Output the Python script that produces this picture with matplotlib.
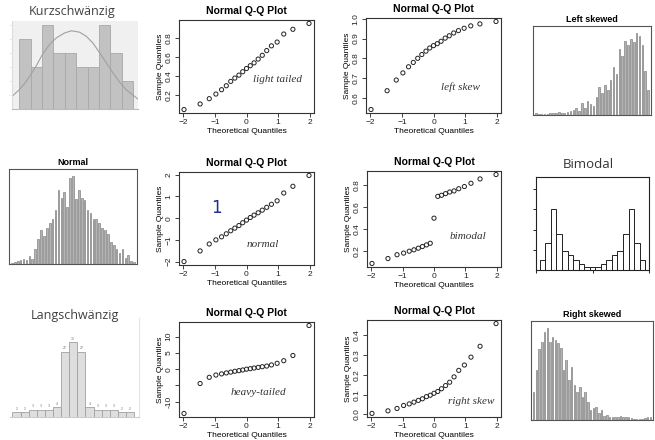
import matplotlib
matplotlib.use("Agg")
import matplotlib.pyplot as plt

W, H = 655, 440

# theoretical quantiles (n = 21)
QQ_X = [-1.98, -1.47, -1.18, -0.97, -0.79, -0.64, -0.50, -0.37, -0.24, -0.12, 0.0,
        0.12, 0.24, 0.37, 0.50, 0.64, 0.79, 0.97, 1.18, 1.47, 1.98]

LIGHT_Y = [0.046, 0.105, 0.161, 0.21, 0.256, 0.298, 0.344, 0.379, 0.41, 0.446, 0.48,
           0.51, 0.54, 0.58, 0.62, 0.67, 0.72, 0.76, 0.845, 0.895, 0.957]
LEFT_Y = [0.541, 0.636, 0.69, 0.726, 0.757, 0.779, 0.80, 0.819, 0.836, 0.852, 0.864,
          0.874, 0.886, 0.902, 0.914, 0.928, 0.94, 0.952, 0.964, 0.974, 0.986]
NORMAL_Y = [-2.0, -1.51, -1.19, -1.0, -0.86, -0.72, -0.58, -0.46, -0.34, -0.21, -0.09,
            0.03, 0.14, 0.25, 0.37, 0.5, 0.64, 0.8, 1.16, 1.47, 1.97]
BIMODAL_Y = [0.085, 0.13, 0.165, 0.18, 0.197, 0.21, 0.225, 0.24, 0.255, 0.27, 0.5,
             0.70, 0.71, 0.725, 0.74, 0.75, 0.77, 0.79, 0.82, 0.86, 0.90]
HEAVY_Y = [-13.6, -4.4, -2.5, -1.8, -1.45, -1.15, -0.9, -0.65, -0.45, -0.25, 0.0,
           0.15, 0.35, 0.55, 0.75, 0.95, 1.3, 1.8, 2.6, 4.2, 13.4]
RIGHT_Y = [0.005, 0.018, 0.03, 0.045, 0.053, 0.062, 0.071, 0.079, 0.09, 0.097, 0.107,
           0.116, 0.13, 0.146, 0.163, 0.19, 0.223, 0.25, 0.29, 0.345, 0.46]

# histogram counts
KURZ_COUNTS = [5, 3, 6, 4, 4, 3, 3, 6, 4, 2]
KURZ_CURVE_X = [-0.64, 0.0, 0.5, 1.0, 1.5, 2.1, 2.7, 3.27, 4.0, 4.6, 5.3, 5.9, 6.5,
                7.08, 7.7, 8.25, 8.8, 9.4, 10.44]
KURZ_CURVE_Y = [0.9, 1.38, 1.85, 2.45, 3.1, 4.0, 4.65, 5.1, 5.45, 5.6, 5.5, 5.2, 4.7,
                4.0, 3.25, 2.57, 1.95, 1.38, 0.71]
LANG_COUNTS = [2, 2, 3, 3, 3, 4, 27, 31, 27, 4, 3, 3, 3, 2, 2]
NORMAL_HIST = [1, 2, 3, 4, 5, 4, 9, 6, 16, 28, 37, 31, 40, 45, 50, 60, 82, 73, 79, 63,
               95, 97, 72, 82, 73, 71, 60, 56, 50, 50, 45, 40, 38, 33, 24, 21, 17, 12,
               17, 7, 10, 3, 2]
LEFT_HIST = [3, 1, 1, 1, 1, 2, 3, 2, 4, 3, 3, 4, 5, 6, 9, 5, 14, 9, 17, 13, 11, 22, 34,
             27, 37, 30, 42, 58, 50, 80, 72, 90, 85, 92, 88, 100, 96, 85, 53, 30]
RIGHT_HIST = [85, 150, 212, 235, 265, 275, 235, 250, 240, 230, 215, 150, 180, 120, 160,
              105, 85, 100, 70, 85, 55, 30, 35, 40, 20, 30, 13, 15, 10, 8, 10, 8, 12, 8,
              10, 8, 5, 3, 3, 3, 3, 5, 8, 10]
BIMODAL_HIST = [30, 80, 178, 105, 55, 43, 30, 18, 8, 8, 8, 18, 30, 43, 55, 105, 178, 80, 30]

plt.rcParams["font.family"] = ["Liberation Sans", "DejaVu Sans"]
fig = plt.figure(figsize=(W / 100, H / 100), dpi=100)


def box(l, t, r, b):
    return fig.add_axes([l / W, 1 - b / H, (r - l) / W, (b - t) / H])


def qq(rect, ys, note, note_xy, yticks, yticklabels=None):
    ax = box(*rect)
    ax.scatter(QQ_X, ys, s=9, facecolors="none", edgecolors="#222222", linewidths=0.7)
    ax.margins(x=0.04, y=0.04)
    ax.set_xticks([-2, -1, 0, 1, 2])
    ax.set_yticks(yticks)
    if yticklabels is not None:
        ax.set_yticklabels(yticklabels)
    ax.tick_params(labelsize=6, length=3, width=0.6, pad=1.5, colors="#222222")
    for lab in ax.get_yticklabels():
        lab.set_rotation(90)
        lab.set_va("center")
    for s in ax.spines.values():
        s.set_linewidth(0.8)
        s.set_color("#333333")
    ax.set_title("Normal Q-Q Plot", fontsize=7.5, fontweight="bold", pad=4)
    ax.set_xlabel("Theoretical Quantiles", fontsize=6, labelpad=1)
    ax.set_ylabel("Sample Quantiles", fontsize=6, labelpad=1)
    ax.text(note_xy[0], note_xy[1], note, transform=ax.transAxes, fontsize=8,
            family="Liberation Serif", style="italic", color="#333333",
            ha="center", va="center")
    return ax


def thin_hist(rect, counts, title):
    ax = box(*rect)
    ax.bar(range(len(counts)), counts, width=0.55, color="#b4b4b4",
           edgecolor="#6e6e6e", linewidth=0.4)
    ax.set_xlim(-1, len(counts))
    ax.set_ylim(0, max(counts) * 1.08)
    ax.set_xticks([])
    ax.set_yticks([])
    for s in ax.spines.values():
        s.set_linewidth(0.8)
        s.set_color("#555555")
    ax.set_title(title, fontsize=6.5, fontweight="bold", pad=3)
    return ax


# row 1
ax = box(12, 21, 138, 109)
ax.set_facecolor("#f0f0f0")
ax.bar([i + 0.5 for i in range(len(KURZ_COUNTS))], KURZ_COUNTS, width=1.0,
       color="#c2c2c2", edgecolor="#a8a8a8", linewidth=0.6)
ax.plot(KURZ_CURVE_X, KURZ_CURVE_Y, color="#a0a0a0", lw=0.8)
ax.set_xlim(-0.64, 10.44)
ax.set_ylim(0, 6.3)
ax.set_xticks([])
ax.set_yticks([1, 2, 3, 4, 5, 6])
ax.tick_params(labelleft=False, length=2, width=0.4, color="#dddddd")
for k in ("top", "right"):
    ax.spines[k].set_visible(False)
ax.spines["left"].set_color("#dddddd")
ax.spines["bottom"].set_color("#bbbbbb")
fig.text(72 / W, 1 - 12 / H, "Kurzschwänzig", fontsize=9, family="Open Sans",
         ha="center", va="center", color="#404040")

qq((179, 20, 314, 113), LIGHT_Y, "light tailed", (0.73, 0.36), [0.2, 0.4, 0.6, 0.8])
qq((366, 18, 501, 113), LEFT_Y, "left skew", (0.70, 0.27), [0.6, 0.7, 0.8, 0.9, 1.0])
thin_hist((533, 26, 651, 115), LEFT_HIST, "Left skewed")

# row 2
thin_hist((9, 169, 137, 264), NORMAL_HIST, "Normal")
ax = qq((179, 172, 314, 265), NORMAL_Y, "normal", (0.62, 0.22), [-2, -1, 0, 1, 2])
ax.text(0.28, 0.61, "1", transform=ax.transAxes, fontsize=12, color="#1f2f8f",
        family="DejaVu Sans", ha="center", va="center")
qq((367, 171, 501, 267), BIMODAL_Y, "bimodal", (0.75, 0.32), [0.2, 0.4, 0.6, 0.8])

ax = box(536, 177, 649, 270)
ax.bar(range(len(BIMODAL_HIST)), BIMODAL_HIST, width=1.0, color="white",
       edgecolor="#222222", linewidth=0.7)
ax.set_xlim(-1.2, len(BIMODAL_HIST) + 0.2)
ax.set_ylim(0, 273)
ax.set_xticks([-1.2, len(BIMODAL_HIST) / 2 - 0.5, len(BIMODAL_HIST) + 0.2])
ax.set_yticks([58, 118, 178, 238])
ax.tick_params(labelbottom=False, labelleft=False, length=2, width=0.6)
for s in ax.spines.values():
    s.set_linewidth(0.8)
    s.set_color("#222222")
fig.text(588 / W, 1 - 165 / H, "Bimodal", fontsize=9.5, family="Open Sans",
         ha="center", va="center", color="#333333")

# row 3
ax = box(10, 318, 139, 417)
ax.bar(range(len(LANG_COUNTS)), LANG_COUNTS, width=1.0, color="#dedede",
       edgecolor="#a0a0a0", linewidth=0.6)
for i, c in enumerate(LANG_COUNTS):
    ax.text(i, c + 0.6, str(c), fontsize=2.5, ha="center", va="bottom", color="#777777")
ax.set_xlim(-0.8, len(LANG_COUNTS) + 0.1)
ax.set_ylim(0, 40.9)
ax.set_xticks([])
ax.set_yticks([])
for k in ("top", "left"):
    ax.spines[k].set_visible(False)
ax.spines["right"].set_color("#e4e4e4")
ax.spines["bottom"].set_color("#cccccc")
fig.text(75 / W, 1 - 316 / H, "Langschwänzig", fontsize=9, family="Open Sans",
         ha="center", va="center", color="#404040")

qq((179, 322, 314, 417), HEAVY_Y, "heavy-tailed", (0.585, 0.26), [-10, -5, 0, 5, 10],
   ["-10", "", "0", "5", "10"])
qq((367, 320, 501, 417), RIGHT_Y, "right skew", (0.78, 0.155), [0.0, 0.1, 0.2, 0.3, 0.4])
thin_hist((531, 321, 653, 420), RIGHT_HIST, "Right skewed")

fig.savefig("out.png", dpi=100)
